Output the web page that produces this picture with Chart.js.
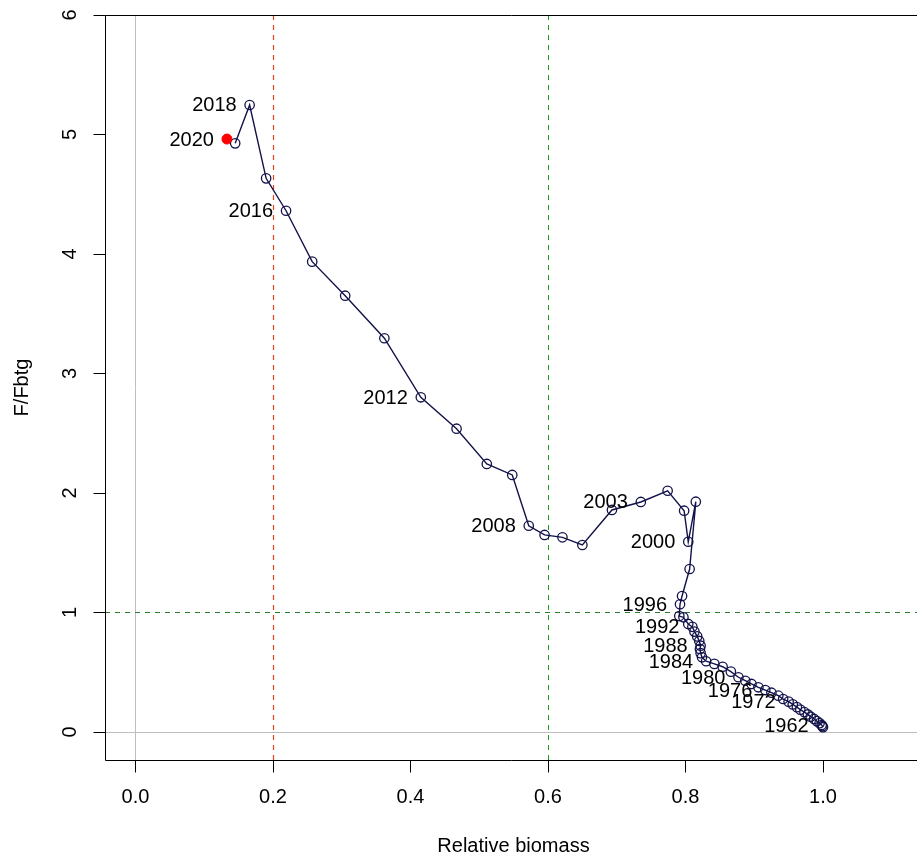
<!DOCTYPE html>
<html><head><meta charset="utf-8">
<script src="https://cdn.jsdelivr.net/npm/chart.js@4"></script>
<style>html,body{margin:0;padding:0;background:#fff}canvas{display:block}</style>
</head><body>
<canvas id="c" width="917" height="856"></canvas>
<script>
// ---- data ----
const years = [1960,1961,1962,1963,1964,1965,1966,1967,1968,1969,
               1970,1971,1972,1973,1974,1975,1976,1977,1978,1979,
               1980,1981,1982,1983,1984,1985,1986,1987,1988,1989,
               1990,1991,1992,1993,1994,1995,1996,1997,1998,1999,
               2000,2001,2002,2003,2004,2005,2006,2007,2008,2009,
               2010,2011,2012,2013,2014,2015,2016,2017,2018,2019];
const biomass = [1.000,0.999,0.998,0.995,0.991,0.987,0.982,0.978,0.973,0.967,
                 0.962,0.956,0.950,0.942,0.935,0.925,0.916,0.906,0.896,0.887,
                 0.877,0.866,0.854,0.842,0.830,0.824,0.822,0.821,0.822,0.820,
                 0.817,0.813,0.810,0.804,0.797,0.791,0.792,0.795,0.806,0.815,
                 0.804,0.798,0.774,0.735,0.693,0.650,0.621,0.595,0.572,0.548,
                 0.511,0.467,0.415,0.362,0.305,0.257,0.219,0.190,0.166,0.145];
const fRatio = [0.040,0.049,0.058,0.074,0.091,0.109,0.128,0.147,0.166,0.187,
                0.208,0.231,0.254,0.276,0.304,0.329,0.351,0.374,0.402,0.429,
                0.458,0.505,0.546,0.570,0.592,0.625,0.660,0.695,0.722,0.762,
                0.800,0.840,0.880,0.904,0.960,0.970,1.069,1.138,1.364,1.927,
                1.592,1.852,2.019,1.925,1.858,1.565,1.629,1.649,1.726,2.151,
                2.243,2.538,2.801,3.295,3.651,3.936,4.362,4.633,5.247,4.926];
const currentYear = [2020];
const currentBiomass = [0.133];
const currentF = [4.962];
const labelYears = [1962,1972,1976,1980,1984,1988,1992,1996,2000,2003,2008,2012,2016,2018,2020];
const xTicks = [0, 0.2, 0.4, 0.6, 0.8, 1.0];
const xTickLabels = ['0.0','0.2','0.4','0.6','0.8','1.0'];
const yTicks = [0, 1, 2, 3, 4, 5, 6];
const yTickLabels = ['0','1','2','3','4','5','6'];
const limitBiomass = [0.2];
const targetBiomass = [0.6];
const targetF = [1];
const xTitle = 'Relative biomass';
const yTitle = 'F/Fbtg';

// ---- styles ----
const FONT = '20px "Liberation Sans", Arial, Helvetica, sans-serif';
const NAVY = '#12124a';

const pts = years.map((yr, i) => ({x: biomass[i], y: fRatio[i], year: yr}));
const cur = currentYear.map((yr, i) => ({x: currentBiomass[i], y: currentF[i], year: yr}));

const decor = {
  id: 'decor',
  beforeDatasetsDraw(chart) {
    const {ctx, chartArea: a, scales: {x, y}} = chart;
    const sx = v => Math.floor(x.getPixelForValue(v)) + 0.5;
    const sy = v => Math.floor(y.getPixelForValue(v)) + 0.5;
    ctx.save();
    ctx.beginPath(); ctx.rect(a.left, a.top, a.right - a.left, a.bottom - a.top); ctx.clip();
    ctx.lineWidth = 1;
    // grey zero lines
    ctx.strokeStyle = '#bebebe';
    ctx.beginPath();
    ctx.moveTo(sx(0), a.top); ctx.lineTo(sx(0), a.bottom);
    ctx.moveTo(a.left, sy(0)); ctx.lineTo(a.right, sy(0));
    ctx.stroke();
    ctx.setLineDash([5, 5]);
    // limit reference (red)
    ctx.strokeStyle = '#e8401c';
    ctx.lineWidth = 1.2;
    limitBiomass.forEach(v => { ctx.beginPath(); ctx.moveTo(sx(v), a.top); ctx.lineTo(sx(v), a.bottom); ctx.stroke(); });
    ctx.lineWidth = 1;
    // target biomass (green)
    ctx.strokeStyle = '#1a9a1a';
    targetBiomass.forEach(v => { ctx.beginPath(); ctx.moveTo(sx(v), a.top); ctx.lineTo(sx(v), a.bottom); ctx.stroke(); });
    // target F (dark green)
    ctx.strokeStyle = '#2a7a2a';
    targetF.forEach(v => { ctx.beginPath(); ctx.moveTo(a.left, sy(v)); ctx.lineTo(a.right, sy(v)); ctx.stroke(); });
    ctx.restore();
  },
  afterDatasetsDraw(chart) {
    const {ctx, scales: {x, y}} = chart;
    ctx.save();
    ctx.font = FONT;
    ctx.fillStyle = '#000';
    ctx.textAlign = 'right';
    ctx.textBaseline = 'middle';
    const all = pts.concat(cur);
    labelYears.forEach(yr => {
      const p = all.find(d => d.year === yr);
      if (!p) return;
      ctx.fillText(String(yr), x.getPixelForValue(p.x) - 13, y.getPixelForValue(p.y) + 1);
    });
    ctx.restore();
  },
  afterDraw(chart) {
    const {ctx, chartArea: a, scales: {x, y}} = chart;
    ctx.save();
    ctx.strokeStyle = '#000';
    ctx.lineWidth = 1;
    const L = Math.floor(a.left) + 0.5, B = Math.floor(a.bottom) + 0.5, T = Math.floor(a.top) + 0.5;
    // frame (right side lies outside the window)
    ctx.beginPath();
    ctx.moveTo(a.right + 5, T); ctx.lineTo(L, T); ctx.lineTo(L, B); ctx.lineTo(a.right + 5, B);
    ctx.stroke();
    // x ticks
    ctx.beginPath();
    xTicks.forEach(v => { const px = Math.floor(x.getPixelForValue(v)) + 0.5; ctx.moveTo(px, B); ctx.lineTo(px, B + 12); });
    // y ticks
    yTicks.forEach(v => { const py = Math.floor(y.getPixelForValue(v)) + 0.5; ctx.moveTo(L, py); ctx.lineTo(L - 12, py); });
    ctx.stroke();
    ctx.font = FONT;
    ctx.fillStyle = '#000';
    ctx.textAlign = 'center';
    ctx.textBaseline = 'middle';
    xTicks.forEach((v, i) => ctx.fillText(xTickLabels[i], x.getPixelForValue(v), 797));
    yTicks.forEach((v, i) => {
      ctx.save();
      ctx.translate(70, y.getPixelForValue(v));
      ctx.rotate(-Math.PI / 2);
      ctx.fillText(yTickLabels[i], 0, 0);
      ctx.restore();
    });
    // titles
    ctx.fillText(xTitle, x.getPixelForValue((x.min + 1.144) / 2), 846);
    ctx.save();
    ctx.translate(22, (a.top + a.bottom) / 2);
    ctx.rotate(-Math.PI / 2);
    ctx.fillText(yTitle, 0, 0);
    ctx.restore();
    ctx.restore();
  }
};

new Chart(document.getElementById('c'), {
  type: 'scatter',
  data: {
    datasets: [
      { label: 'current', data: cur, showLine: false,
        pointRadius: 5, pointBackgroundColor: '#ff0000', pointBorderColor: '#ff0000', pointBorderWidth: 1 },
      { label: 'history', data: pts, showLine: true, tension: 0,
        borderColor: NAVY, borderWidth: 1.4,
        pointRadius: 4.7, pointBorderWidth: 1.3, pointBackgroundColor: 'rgba(0,0,0,0)', pointBorderColor: NAVY }
    ]
  },
  options: {
    responsive: false,
    animation: false,
    events: [],
    layout: { autoPadding: false, padding: { left: 105, top: 15, right: 0, bottom: 96 } },
    scales: {
      x: { type: 'linear', display: false, min: -30.5 / 687.5, max: (917 - 135.5) / 687.5 },
      y: { type: 'linear', display: false, min: -28 / 119.5, max: 6 }
    },
    plugins: { legend: { display: false }, tooltip: { enabled: false } }
  },
  plugins: [decor]
});
</script>
</body></html>
